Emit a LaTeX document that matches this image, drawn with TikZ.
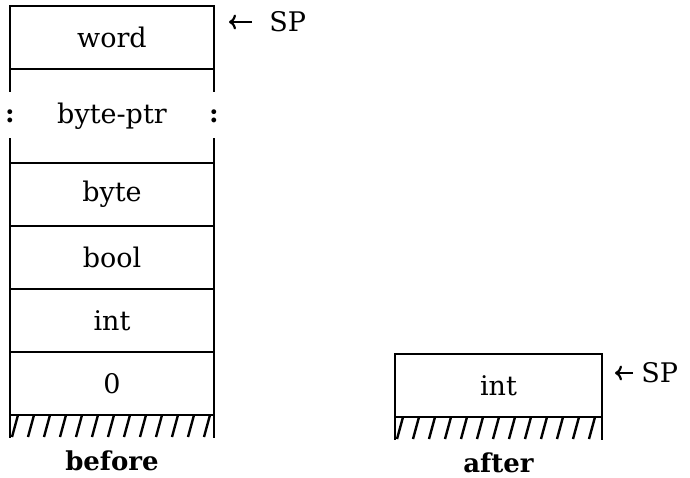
\documentclass[tikz,border=0pt]{standalone}
\usepackage{fontspec}
\setmainfont{DejaVu Serif}
\usetikzlibrary{positioning, arrows.meta}
\tikzset{
    cell/.style = {
        rectangle, draw,
        minimum width=204pt,
        minimum height=63pt,
        inner sep=0pt, outer sep=0pt,
        font=\fontsize{27}{30}\selectfont
    },
    gapcell/.style = {
        cell, draw=none,
        minimum height=94pt
    },
    caption/.style = {
        inner sep=0pt,
        font=\bfseries\fontsize{26}{30}\selectfont
    },
    sp/.style = {
        anchor=west, inner sep=0pt,
        font=\fontsize{27}{30}\selectfont
    },
    arrow/.style = {
        -{To[length=7pt, width=15pt]}, line width=2.2pt
    },
    hatch/.style = {
        line width=2.4pt
    }
}
\begin{document}
\begin{tikzpicture}[x=1pt, y=-1pt, line width=2.8pt]
\useasboundingbox (0,0) rectangle (690,478);

% stack before
\node (word) [cell] at (112,37.5) {word};
\node (byteptr) [gapcell, below=0pt of word] {byte-ptr};
\node (byte) [cell, below=0pt of byteptr] {byte};
\node (bool) [cell, below=0pt of byte] {bool};
\node (int) [cell, below=0pt of bool] {int};
\node (zero) [cell, below=0pt of int] {0};

\draw (byteptr.north west) -- ++(0pt,-23pt);
\draw (byteptr.north east) -- ++(0pt,-23pt);
\draw (byteptr.south west) -- ++(0pt,25pt);
\draw (byteptr.south east) -- ++(0pt,25pt);
\node (lcolon) [font=\bfseries\fontsize{26}{30}\selectfont] at (byteptr.west) {:};
\node (rcolon) [font=\bfseries\fontsize{26}{30}\selectfont] at (byteptr.east) {:};

\draw (zero.south west) -- ++(0pt,-23pt);
\draw (zero.south east) -- ++(0pt,-23pt);
\foreach \i in {0,...,12}
    \draw [hatch] ([xshift={(8+16*\i)*1pt}]zero.south west) -- ++(-6pt,-22pt);
\node (before) [caption, below=34pt of zero] {before};

\coordinate (sptipa) at (229,22);
\node (spa) [sp] at (268,22) {SP};
\draw [arrow] ([xshift=-16pt]spa.west) -- (sptipa);

% stack after
\node (intafter) [cell, minimum width=207pt] at (498.5,385.5) {int};
\draw (intafter.south west) -- ++(0pt,-23pt);
\draw (intafter.south east) -- ++(0pt,-23pt);
\foreach \i in {0,...,12}
    \draw [hatch] ([xshift={(8+16*\i)*1pt}]intafter.south west) -- ++(-6pt,-22pt);
\node (after) [caption, below=34pt of intafter] {after};

\coordinate (sptipb) at (615,373);
\node (spb) [sp] at (640,373) {SP};
\draw [arrow] ([xshift=-7pt]spb.west) -- (sptipb);

\end{tikzpicture}
\end{document}
